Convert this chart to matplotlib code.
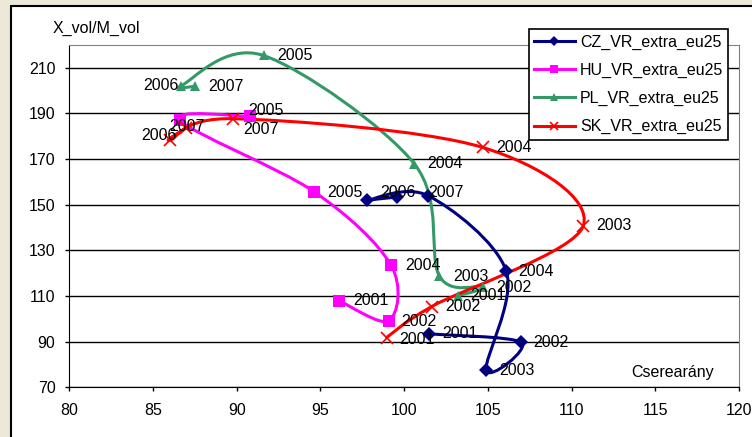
import matplotlib
matplotlib.use("Agg")
import matplotlib.pyplot as plt
import numpy as np
from matplotlib.lines import Line2D
from matplotlib.patches import PathPatch, Rectangle
from matplotlib.path import Path

plt.rcParams["font.family"] = ["Liberation Sans", "DejaVu Sans"]
plt.rcParams["font.size"] = 11.5

# values (x = Cserearány, y = X_vol/M_vol)
cz_years = ["2001", "2002", "2003", "2004", "2005", "2006", "2007"]
cz_x = [101.5, 107.0, 104.9, 106.1, 101.45, 97.8, 99.6]
cz_y = [93.4, 89.7, 77.5, 120.9, 153.9, 151.9, 153.4]

hu_years = ["2001", "2002", "2004", "2005", "2006", "2007"]
hu_x = [96.1, 99.1, 99.2, 94.6, 86.6, 90.8]
hu_y = [108.0, 99.2, 123.7, 155.8, 187.0, 188.8]

pl_years = ["2001", "2002", "2003", "2004", "2005", "2006", "2007"]
pl_x = [103.2, 104.7, 102.1, 100.6, 91.6, 86.7, 87.5]
pl_y = [110.1, 114.1, 118.8, 168.0, 215.4, 202.2, 201.9]

sk_years = ["2001", "2002", "2003", "2004", "2005", "2006", "2007"]
sk_x = [98.95, 101.65, 110.7, 104.7, 89.8, 86.0, 87.0]
sk_y = [91.8, 105.4, 140.8, 175.1, 187.7, 178.2, 183.8]

x_ticks = [80, 85, 90, 95, 100, 105, 110, 115, 120]
y_ticks = [70, 90, 110, 130, 150, 170, 190, 210]

# label placement in pixels: (dx, dy up, ha); None = no label shown
cz_lab = [(13, 0, "left"), (12, 0, "left"), (13, 0, "left"), (12, 0, "left"),
          None, (13, 8, "left"), (31, 4, "left")]
hu_lab = [(14, 0, "left"), (12, -1, "left"), (14, -1, "left"), (14, -1, "left"),
          None, (-7, -13, "left")]
pl_lab = [(13, 0, "left"), (13, -1, "left"), (14, -1, "left"), (13, 0, "left"),
          (14, 0, "left"), (-3, 0, "right"), (13, 0, "left")]
sk_lab = [(13, -2, "left"), (13, 0, "left"), (13, 0, "left"), (13, 0, "left"),
          (15, 8, "left"), (7, 5, "right"), (0, 1, "center")]


def smooth_path(xs, ys):
    # Excel-like smoothed line: Catmull-Rom segments as cubic Beziers
    p = np.column_stack([xs, ys])
    n = len(p)
    verts = [p[0]]
    codes = [Path.MOVETO]
    for i in range(n - 1):
        p0 = p[max(i - 1, 0)]
        p3 = p[min(i + 2, n - 1)]
        c1 = p[i] + (p[i + 1] - p0) / 6.0
        c2 = p[i + 1] - (p3 - p[i]) / 6.0
        verts += [c1, c2, p[i + 1]]
        codes += [Path.CURVE4] * 3
    return Path(verts, codes)


series = [
    ("CZ_VR_extra_eu25", cz_x, cz_y, cz_years, cz_lab, "#000080", "D", 7.5),
    ("HU_VR_extra_eu25", hu_x, hu_y, hu_years, hu_lab, "#FF00FF", "s", 8.5),
    ("PL_VR_extra_eu25", pl_x, pl_y, pl_years, pl_lab, "#339966", "^", 7.5),
    ("SK_VR_extra_eu25", sk_x, sk_y, sk_years, sk_lab, "#FF0000", "x", 8.0),
]

fig = plt.figure(figsize=(7.52, 4.37), dpi=100, facecolor="#ECE9D8")
fig.add_artist(Rectangle((11 / 752, -0.1), 1.0, 1.1 - 6 / 437, transform=fig.transFigure,
                         facecolor="white", edgecolor="black", linewidth=1.5, zorder=-10))

ax = fig.add_axes([69.3 / 752, (437 - 387.3) / 437, (739 - 69.3) / 752, (387.3 - 45) / 437])
ax.set_facecolor("none")
ax.set_xlim(80, 120)
ax.set_ylim(70, 220)
ax.set_xticks(x_ticks)
ax.set_yticks(y_ticks)
ax.tick_params(direction="out", length=3, width=1, color="black", labelsize=11.5)
ax.tick_params(axis="x", pad=8)
ax.tick_params(axis="y", pad=7)
ax.yaxis.grid(True, color="black", linewidth=1)
ax.set_axisbelow(True)
for side in ("left", "bottom"):
    ax.spines[side].set_color("black")
for side in ("top", "right"):
    ax.spines[side].set_color("#808080")

handles = []
for name, xs, ys, yrs, labs, col, mk, ms in series:
    ax.add_patch(PathPatch(smooth_path(xs, ys), facecolor="none", edgecolor=col,
                           linewidth=2.2, zorder=2, capstyle="round", joinstyle="round"))
for name, xs, ys, yrs, labs, col, mk, ms in series:
    mew = 1.2 if mk == "x" else 0
    ax.plot(xs, ys, linestyle="none", marker=mk, markersize=ms, color=col,
            markeredgewidth=mew, zorder=3)
    handles.append(Line2D([], [], color=col, linewidth=2.2, marker=mk,
                          markersize=ms * 0.72, markeredgewidth=mew, label=name))
    for xv, yv, yr, lab in zip(xs, ys, yrs, labs):
        if lab is None:
            continue
        dx, dy, ha = lab
        ax.annotate(yr, (xv, yv), xytext=(dx * 0.72, dy * 0.72), textcoords="offset points",
                    ha=ha, va="center", fontsize=11.5, zorder=4)

ax.text((631 - 69.3) / 669.7, (387.3 - 372) / 342.3, "Cserearány", transform=ax.transAxes,
        ha="left", va="center", fontsize=11.5)
fig.text(53 / 752, 1 - 28 / 437, "X_vol/M_vol", ha="left", va="center", fontsize=11.5)

leg = ax.legend(handles=handles, loc="upper left", bbox_to_anchor=(528.7 / 752, 1 - 29.3 / 437),
                bbox_transform=fig.transFigure, frameon=True, fancybox=False, framealpha=1,
                edgecolor="black", borderpad=0.33, handlelength=2.56, handletextpad=0.31,
                labelspacing=0.82, borderaxespad=0, fontsize=11.5)
leg.get_frame().set_linewidth(1.2)

fig.savefig("out.png", dpi=100, facecolor=fig.get_facecolor())
